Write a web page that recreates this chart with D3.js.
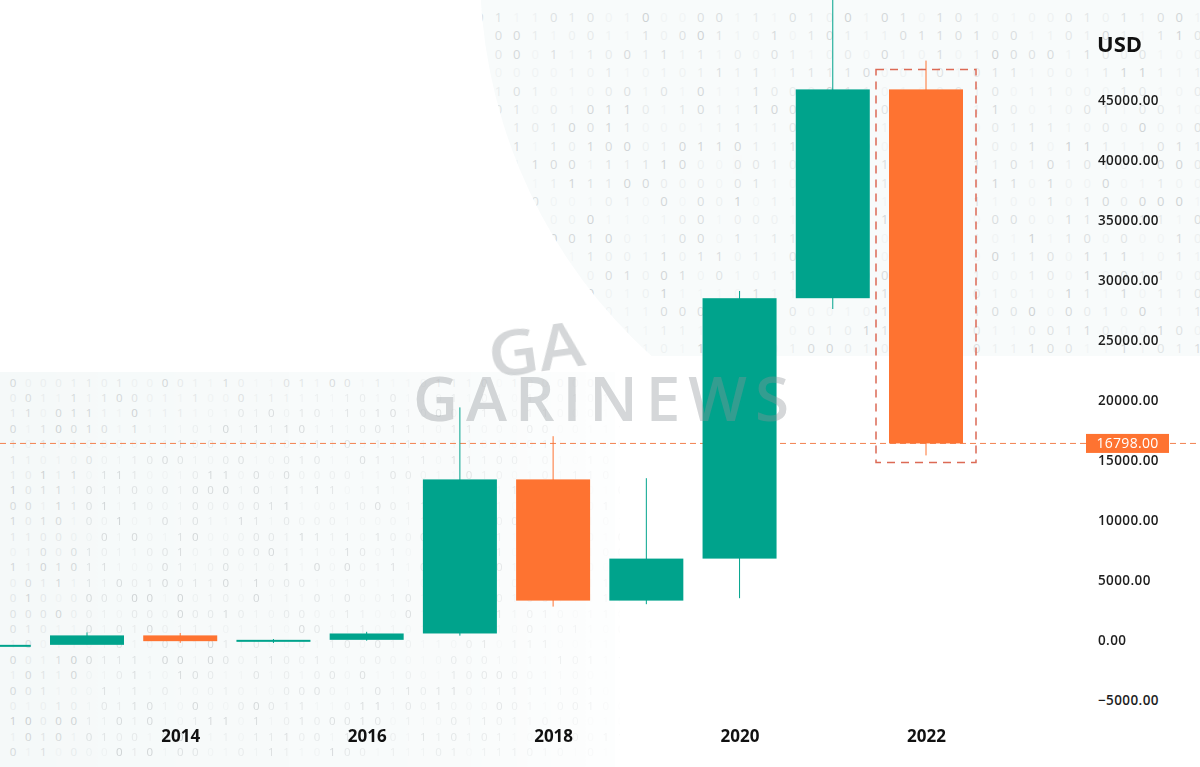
<!DOCTYPE html>
<html><head><meta charset="utf-8">
<script src="https://cdn.jsdelivr.net/npm/d3@7"></script>
<style>body{margin:0;background:#fff;} svg{display:block}</style>
</head><body><svg id="c" width="1200" height="767"></svg>
<script>
// ---- data ----
const years  = [2012, 2013, 2014, 2015, 2016, 2017, 2018, 2019, 2020, 2021, 2022];
const open   = [5, 13, 800, 320, 430, 960, 13800, 3700, 7200, 28900, 46300];
const close  = [13, 800, 320, 430, 960, 13800, 3700, 7200, 28900, 46300, 16798];
const high   = [16, 1050, 1000, 500, 1100, 19800, 17400, 13900, 29500, 69000, 48700];
const low    = [4, 65, 180, 170, 360, 780, 3200, 3400, 3900, 28000, 15800];
const yTicks = [-5000, 0, 5000, 10000, 15000, 20000, 25000, 30000, 35000, 40000, 45000];
const xTicks = [2014, 2016, 2018, 2020, 2022];
const lastPrice = 16798;
const currency = "USD";
const brand = "GARINEWS";

const W = 1200, H = 767;
const TEAL = "#00a38c", ORANGE = "#fe7331";
const svg = d3.select("#c");
const defs = svg.append("defs");

// deterministic hash for decorative binary pattern
function hash(a, b, c) { const s = Math.sin(a * 127.1 + b * 311.7 + c * 74.7) * 43758.5453; return s - Math.floor(s); }

// ---- background decoration ----
defs.append("clipPath").attr("id", "topClip").call(cp => {
  cp.append("circle").attr("cx", 1000).attr("cy", -30).attr("r", 520);
  cp.append("rect").attr("x", 1000).attr("y", 0).attr("width", 200).attr("height", 356);
});
defs.append("clipPath").attr("id", "topCut").append("rect").attr("x", 0).attr("y", 0).attr("width", W).attr("height", 356);
const topOuter = svg.append("g").attr("clip-path", "url(#topCut)");
const topG = topOuter.append("g").attr("clip-path", "url(#topClip)");
topG.append("rect").attr("width", W).attr("height", 360).attr("fill", "#f8fbfb");
const topDigits = [];
for (let r = 0; r < 19; r++) for (let c = 0; c < 40; c++) {
  const px = 480 + c * 18.4, py = 17 + r * 18.4;
  const v = hash(r, c, 2);
  topDigits.push({ px, py, d: hash(r, c, 1) > 0.5 ? "1" : "0", o: 0.05 + 0.3 * v * v });
}
topG.selectAll("text").data(topDigits).join("text")
  .attr("x", d => d.px).attr("y", d => d.py)
  .attr("text-anchor", "middle").attr("dominant-baseline", "central")
  .attr("font-family", "Open Sans, sans-serif").attr("font-size", 13)
  .attr("fill", "#7f868b").attr("opacity", d => d.o).text(d => d.d);

// bottom-left region
const grad = defs.append("linearGradient").attr("id", "fadeR").attr("x1", 0).attr("x2", 1).attr("y1", 0).attr("y2", 0);
grad.append("stop").attr("offset", "0").attr("stop-color", "#fff").attr("stop-opacity", 1);
grad.append("stop").attr("offset", "0.75").attr("stop-color", "#fff").attr("stop-opacity", 0.6);
grad.append("stop").attr("offset", "1").attr("stop-color", "#fff").attr("stop-opacity", 0.15);
defs.append("mask").attr("id", "blMask").append("rect").attr("x", 0).attr("y", 370).attr("width", 620).attr("height", 400).attr("fill", "url(#fadeR)");
const blG = svg.append("g").attr("mask", "url(#blMask)");
blG.append("rect").attr("x", 0).attr("y", 372).attr("width", 615).attr("height", 400).attr("fill", "#f5f9f9");
const blDigits = [];
for (let r = 0; r < 25; r++) for (let c = 0; c < 41; c++) {
  const px = 13 + c * 15.2, py = 382 + r * 15.4;
  const v = hash(r, c, 4);
  blDigits.push({ px, py, d: hash(r, c, 3) > 0.5 ? "1" : "0", o: 0.06 + 0.34 * v * v });
}
blG.selectAll("text").data(blDigits).join("text")
  .attr("x", d => d.px).attr("y", d => d.py)
  .attr("text-anchor", "middle").attr("dominant-baseline", "central")
  .attr("font-family", "Open Sans, sans-serif").attr("font-size", 11.5)
  .attr("fill", "#7f868b").attr("opacity", d => d.o).text(d => d.d);

// ---- scales ----
const x = d3.scaleLinear().domain([2013, 2022]).range([87, 926]);
const y = d3.scaleLinear().domain([-5000, 45000]).range([705, 105]);
const bodyW = 74;

// last price dashed line
svg.append("line").attr("x1", 0).attr("x2", W).attr("y1", y(lastPrice)).attr("y2", y(lastPrice))
  .attr("stroke", "#f2814f").attr("stroke-width", 1).attr("stroke-dasharray", "6,4");

// ---- candles ----
const data = years.map((yr, i) => ({ yr, o: open[i], c: close[i], h: high[i], l: low[i] }));
const cg = svg.append("g");
cg.selectAll("line.wick").data(data).join("line").attr("class", "wick")
  .attr("x1", d => x(d.yr)).attr("x2", d => x(d.yr))
  .attr("y1", d => y(d.h)).attr("y2", d => y(d.l))
  .attr("stroke", d => d.c >= d.o ? TEAL : ORANGE).attr("stroke-width", 1);
cg.selectAll("rect.body").data(data).join("rect").attr("class", "body")
  .attr("x", d => x(d.yr) - bodyW / 2).attr("width", bodyW)
  .attr("y", d => y(Math.max(d.o, d.c)))
  .attr("height", d => Math.max(2, Math.abs(y(d.o) - y(d.c))))
  .attr("fill", d => d.c >= d.o ? TEAL : ORANGE);

// highlight box around last candle
const last = data[data.length - 1];
svg.append("rect")
  .attr("x", x(last.yr) - 50).attr("width", 100)
  .attr("y", y(last.o) - 20).attr("height", y(last.c) - y(last.o) + 39)
  .attr("fill", "none").attr("stroke", "#dc6a55").attr("stroke-width", 1.5).attr("stroke-dasharray", "8,6");

// ---- watermark ----
const wm = svg.append("g").attr("fill", "#8d9397").attr("opacity", 0.37)
  .attr("font-family", "Open Sans, sans-serif").attr("font-weight", 600);
wm.append("text").attr("x", 413).attr("y", 421).attr("font-size", 62)
  .attr("textLength", 376).attr("lengthAdjust", "spacing").text(brand);
wm.append("text").attr("x", 488).attr("y", 372).attr("font-size", 64)
  .attr("textLength", 96).attr("lengthAdjust", "spacingAndGlyphs")
  .attr("transform", "rotate(-8,535,350)").text(brand.slice(0, 2));

// ---- axes ----
const yAxis = svg.append("g").attr("transform", "translate(1098,0)")
  .call(d3.axisRight(y).tickValues(yTicks).tickFormat(d3.format(".2f")).tickSize(0).tickPadding(0));
yAxis.select(".domain").remove();
yAxis.selectAll("text").attr("x", 0).attr("y", -5).attr("dy", "0.35em")
  .attr("font-family", "Open Sans, sans-serif").attr("font-size", 13.5).attr("font-weight", 600)
  .attr("letter-spacing", 0.4).attr("fill", "#1d1d1d");

const xAxis = svg.append("g").attr("transform", "translate(0,736)")
  .call(d3.axisBottom(x).tickValues(xTicks).tickFormat(d3.format("d")).tickSize(0).tickPadding(0));
xAxis.select(".domain").remove();
xAxis.selectAll("text").attr("y", 0).attr("dy", "0.35em")
  .attr("font-family", "Open Sans, sans-serif").attr("font-size", 17).attr("font-weight", 700).attr("fill", "#111");

svg.append("text").attr("x", 1097).attr("y", 44).attr("dy", "0.35em")
  .attr("font-family", "Open Sans, sans-serif").attr("font-size", 22).attr("font-weight", 700).attr("fill", "#111").text(currency);

// last price label
svg.append("rect").attr("x", 1086).attr("width", 83).attr("y", y(lastPrice) - 9.5).attr("height", 19).attr("fill", ORANGE);
svg.append("text").attr("x", 1127.5).attr("y", y(lastPrice)).attr("dy", "0.35em").attr("text-anchor", "middle")
  .attr("font-family", "Open Sans, sans-serif").attr("font-size", 14).attr("font-weight", 500).attr("fill", "#fff")
  .attr("letter-spacing", 0.3).text(d3.format(".2f")(lastPrice));
</script></body></html>
